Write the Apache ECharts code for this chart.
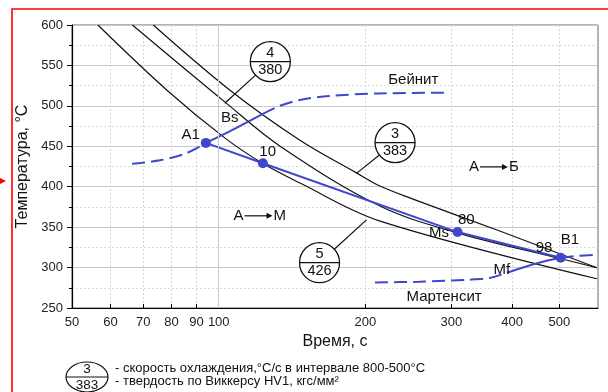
<!DOCTYPE html>
<html><head><meta charset="utf-8">
<script src="https://cdn.jsdelivr.net/npm/echarts@6/dist/echarts.min.js"></script>
<style>html,body{margin:0;padding:0;background:#fff}#chart{width:608px;height:392px}</style>
</head><body><div id="chart"></div>
<script>
// Cooling curves, [time, s ; temperature, °C]
const curveFast = [[56.5,600],[78.2,519.7],[102.9,460.4],[123,428.9],[146.5,404.8],[213.6,357.8],[597,286.2]];
const curveMid  = [[66.5,600],[102.9,504.9],[133.4,450.5],[213.6,376.4],[308.5,343],[504,310.9],[597,299.8]];
const curveSlow = [[73.4,600],[105.3,519.7],[146.5,457.9],[191.7,417.1],[213.6,401.1],[249.6,385],[376,345.5],[597,299.8]];

// Transformation points along the cooling path
const pointNames = ['A1','10','80','B1'];
const pointTimes = [94.1,123.2,309,503];
const pointTemps = [454.2,429.1,343.9,312.1];

// Bainite start line
const bainiteBefore = [[66.4,428.3],[75.7,432.6],[85.2,440.6],[94.1,454.2]];
const bainiteActive = [[94.1,454.2],[105.3,468.4],[123.2,490]];
const bainiteAfter  = [[123.2,490],[133.4,500],[146.5,507.3],[168.7,512.3],[213.6,515.4],[297,516.4]];

// Martensite line
const martBefore = [[209.3,281.6],[258,282.5],[326.5,285],[358.7,287],[385,292.4],[413,298.5]];
const martActive = [[413,298.5],[454,306],[503,312.1]];
const martAfter  = [[503,312.1],[548.5,314.6],[597,315.8]];

// Text labels: [text, time, temperature]
const textLabels = [['Бейнит',250.7,532],['Мартенсит',290,264],['Bs',105.3,485],['A1',87.6,464],
  ['10',126,443],['80',322,359],['Ms',283,343],['98',465,324.5],['B1',525.6,334],['Mf',381,297]];

// Rate / hardness badges: [time, temp, leader time, leader temp, rate, HV]
const badges = [[127.6,554.7,102.9,503.3,'4','380'],[230,454.6,192,416.8,'3','383'],[161,306,201,359,'5','426']];

// Phase transformation arrows: [from, to, time, temp]
const phaseArrows = [['А','Б',367,424.5],['А','М',120.7,364]];

// Axis ticks
const timeTicks = [50,60,70,80,90,100,200,300,400,500];

const FONT = 'Liberation Sans, Arial, sans-serif';
const BLUE = '#3f47cc';
const INK = '#111';

const chart = echarts.init(document.getElementById('chart'), null, {renderer:'canvas'});

const pathData = pointTimes.map((t,i)=>({name:pointNames[i], value:[t, pointTemps[i]]}));

function curve(data){
  return {type:'line', data, smooth:0.35, showSymbol:false, silent:true, z:2,
    lineStyle:{color:INK, width:1.2}};
}
function blueLine(data, dashed){
  return {type:'line', data, smooth:0.3, showSymbol:false, silent:true, z:3,
    lineStyle:{color:BLUE, width:2, type: dashed ? [13,6] : 'solid'}};
}

const option = {
  animation:false,
  grid:{left:72, right:10, top:25, bottom:84, show:true, borderColor:'#666', borderWidth:1, outerBoundsMode:'none', containLabel:false},
  xAxis:{type:'log', logBase:10, min:50, max:600,
    name:'Время, с', nameLocation:'middle', nameGap:25,
    nameTextStyle:{fontFamily:FONT, fontSize:16, color:INK},
    axisLine:{show:true, lineStyle:{color:'#000', width:1.2}},
    axisTick:{show:true, inside:true, length:4, customValues:timeTicks, lineStyle:{color:'#000'}},
    axisLabel:{customValues:timeTicks, fontFamily:FONT, fontSize:13, color:'#222', margin:8, formatter:v=>String(Math.round(v))},
    splitLine:{show:true, lineStyle:{color:'#d6d6d6', type:[2,2], width:1}},
    minorTick:{show:false}, minorSplitLine:{show:false}},
  yAxis:{type:'value', min:250, max:600, interval:50,
    name:'Температура, °C', nameLocation:'middle', nameGap:36,
    nameTextStyle:{fontFamily:FONT, fontSize:16, color:INK},
    axisLine:{show:true, lineStyle:{color:'#000', width:1.2}},
    axisTick:{show:true, length:5, lineStyle:{color:'#000'}},
    minorTick:{show:true, splitNumber:2, length:3, lineStyle:{color:'#000'}},
    axisLabel:{fontFamily:FONT, fontSize:13, color:'#222', margin:9},
    splitLine:{show:true, lineStyle:{color:'#c8c8c8', width:1}},
    minorSplitLine:{show:true, lineStyle:{color:'#dcdcdc', type:[2,2], width:1}}},
  series:[
    Object.assign(curve(curveFast), {markLine:{silent:true, symbol:'none', label:{show:false},
      lineStyle:{color:'#c8c8c8', type:'solid', width:1}, data:[{xAxis:100}]}}),
    curve(curveMid),
    curve(curveSlow),
    blueLine(bainiteBefore, true),
    blueLine(bainiteActive, false),
    blueLine(bainiteAfter, true),
    blueLine(martBefore, true),
    blueLine(martActive, false),
    blueLine(martAfter, true),
    {type:'line', data:pathData, smooth:false, symbol:'circle', symbolSize:10, showSymbol:true, z:4,
      itemStyle:{color:BLUE}, lineStyle:{color:BLUE, width:2}},
    {type:'custom', z:6, clip:false, silent:true, data:badges,
      renderItem(params, api){
        const b = badges[params.dataIndex];
        const c = api.coord([b[0], b[1]]);
        const tg = api.coord([b[2], b[3]]);
        const r = 20;
        const dx = tg[0]-c[0], dy = tg[1]-c[1], d = Math.hypot(dx,dy);
        return {type:'group', children:[
          {type:'line', shape:{x1:c[0]+dx/d*r, y1:c[1]+dy/d*r, x2:tg[0], y2:tg[1]}, style:{stroke:INK, lineWidth:1.2}},
          {type:'circle', shape:{cx:c[0], cy:c[1], r}, style:{fill:'#fff', stroke:INK, lineWidth:1.3}},
          {type:'line', shape:{x1:c[0]-r, y1:c[1], x2:c[0]+r, y2:c[1]}, style:{stroke:INK, lineWidth:1.3}},
          {type:'text', style:{text:b[4], x:c[0], y:c[1]-1, align:'center', verticalAlign:'bottom', fontFamily:FONT, fontSize:14.5, fill:INK}},
          {type:'text', style:{text:b[5], x:c[0], y:c[1]+1, align:'center', verticalAlign:'top', fontFamily:FONT, fontSize:14.5, fill:INK}}
        ]};
      }},
    {type:'custom', z:6, clip:false, silent:true, data:textLabels,
      renderItem(params, api){
        const l = textLabels[params.dataIndex];
        const p = api.coord([l[1], l[2]]);
        return {type:'text', style:{text:l[0], x:p[0], y:p[1], align:'center', verticalAlign:'middle', fontFamily:FONT, fontSize:15, fill:INK}};
      }},
    {type:'custom', z:6, clip:false, silent:true, data:phaseArrows,
      renderItem(params, api){
        const a = phaseArrows[params.dataIndex];
        const p = api.coord([a[2], a[3]]);
        const x = p[0], y = p[1];
        return {type:'group', children:[
          {type:'text', style:{text:a[0], x:x-15, y, align:'right', verticalAlign:'middle', fontFamily:FONT, fontSize:15, fill:INK}},
          {type:'line', shape:{x1:x-14, y1:y, x2:x+10, y2:y}, style:{stroke:INK, lineWidth:1.2}},
          {type:'polygon', shape:{points:[[x+8,y-3],[x+14,y],[x+8,y+3]]}, style:{fill:INK}},
          {type:'text', style:{text:a[1], x:x+15, y, align:'left', verticalAlign:'middle', fontFamily:FONT, fontSize:15, fill:INK}}
        ]};
      }}
  ],
  graphic:[
    {type:'rect', shape:{x:12, y:9, width:700, height:500}, style:{fill:null, stroke:'#f00', lineWidth:1.6}, z:0, silent:true},
    {type:'polygon', shape:{points:[[0,178],[6,181],[0,184]]}, style:{fill:'#f00'}, silent:true},
    {type:'ellipse', shape:{cx:87, cy:377, rx:21, ry:15}, style:{fill:'#fff', stroke:INK, lineWidth:1.2}, silent:true},
    {type:'line', shape:{x1:66, y1:377, x2:108, y2:377}, style:{stroke:INK, lineWidth:1.2}, silent:true},
    {type:'text', style:{text:'3', x:87, y:376, align:'center', verticalAlign:'bottom', fontFamily:FONT, fontSize:13.5, fill:INK}, silent:true},
    {type:'text', style:{text:'383', x:87, y:378, align:'center', verticalAlign:'top', fontFamily:FONT, fontSize:13.5, fill:INK}, silent:true},
    {type:'text', style:{text:'- скорость охлаждения,°С/с в интервале 800-500°С', x:115, y:368, verticalAlign:'middle', fontFamily:FONT, fontSize:13, fill:INK}, silent:true},
    {type:'text', style:{text:'- твердость по Виккерсу HV1, кгс/мм²', x:115, y:381, verticalAlign:'middle', fontFamily:FONT, fontSize:13, fill:INK}, silent:true}
  ]
};
chart.setOption(option);
</script></body></html>
